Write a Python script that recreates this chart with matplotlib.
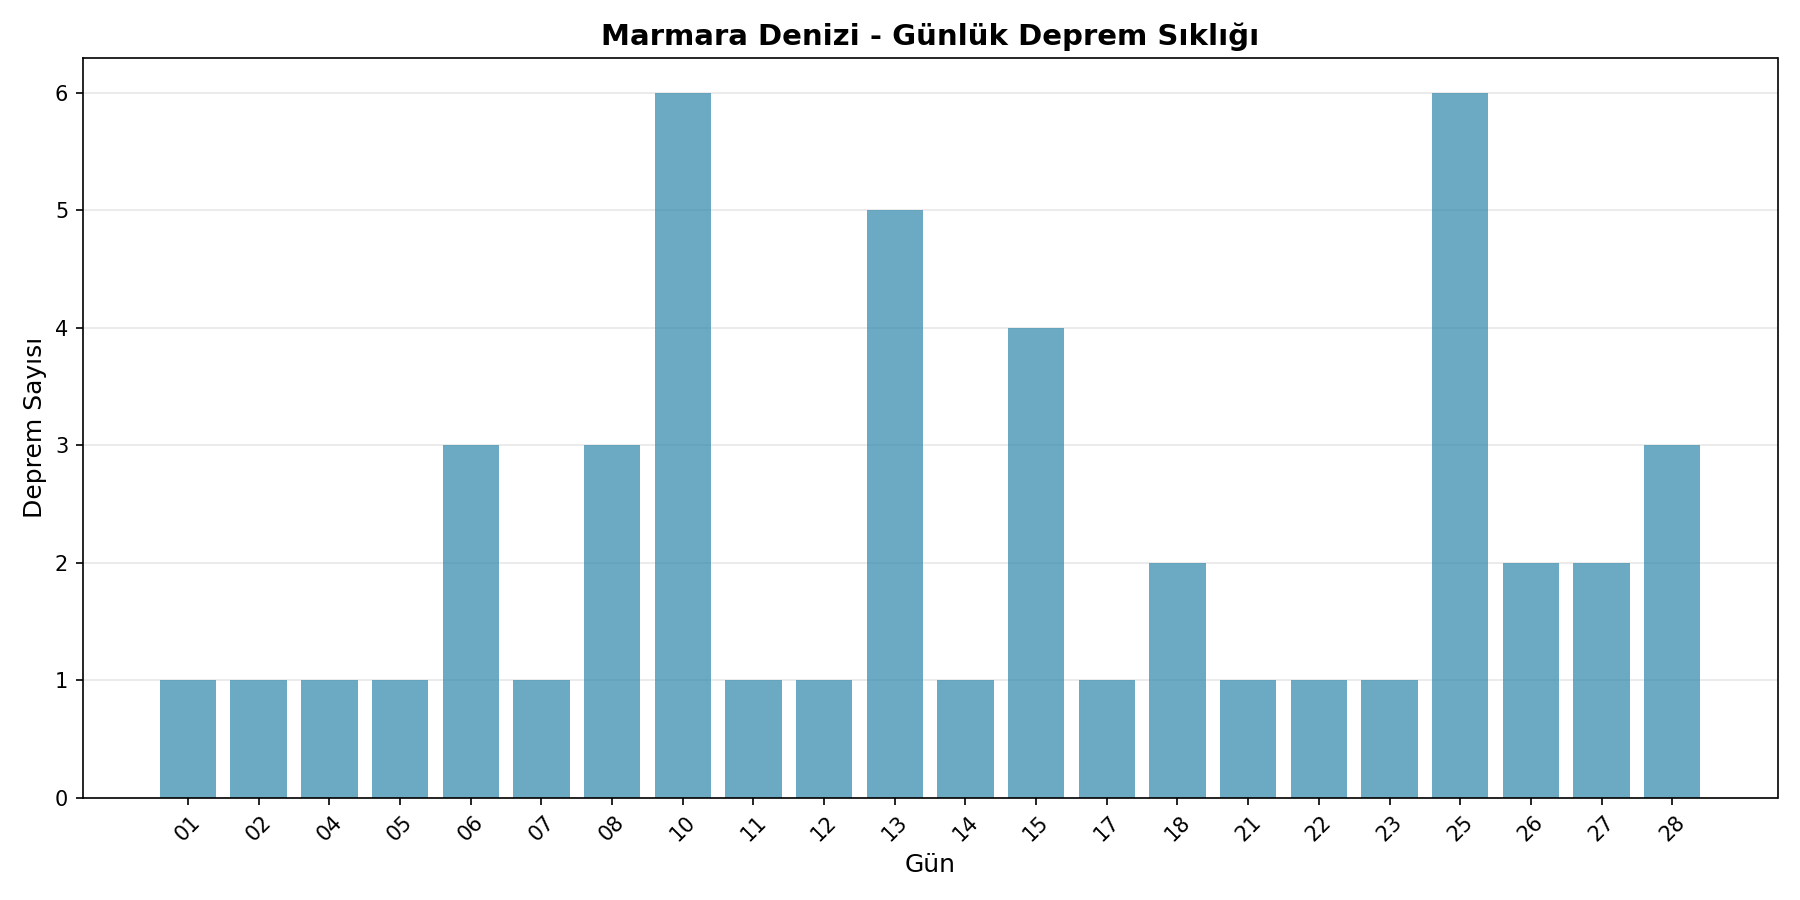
import matplotlib
matplotlib.use("Agg")
import matplotlib.pyplot as plt

# Daily earthquake counts
days = ["01", "02", "04", "05", "06", "07", "08", "10", "11", "12", "13",
        "14", "15", "17", "18", "21", "22", "23", "25", "26", "27", "28"]
counts = [1, 1, 1, 1, 3, 1, 3, 6, 1, 1, 5, 1, 4, 1, 2, 1, 1, 1, 6, 2, 2, 3]

fig, ax = plt.subplots(figsize=(12, 6), dpi=150)
ax.bar(range(len(days)), counts, color="#2E86AB", alpha=0.7, width=0.8)
ax.set_xticks(range(len(days)))
ax.set_xticklabels(days, rotation=45)
ax.set_title("Marmara Denizi - Günlük Deprem Sıklığı", fontsize=14, fontweight="bold")
ax.set_xlabel("Gün", fontsize=12)
ax.set_ylabel("Deprem Sayısı", fontsize=12)
ax.grid(True, axis="y", alpha=0.3)
ax.set_axisbelow(True)
plt.tight_layout()
plt.savefig("out.png", dpi=150)
